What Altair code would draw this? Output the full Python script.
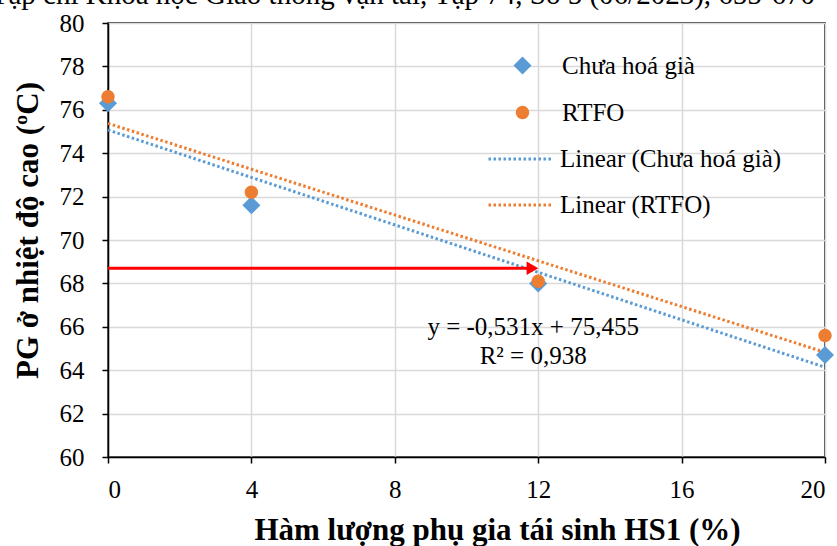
import altair as alt
import pandas as pd

# ---- data ----
x_vals = [0, 4, 12, 20]
chua_hoa_gia = [76.3, 71.6, 68.0, 64.7]
rtfo = [76.6, 72.2, 68.1, 65.6]
series_names = ["Chưa hoá già", "RTFO"]
series_colors = ["#5B9BD5", "#ED7D31"]
y_ticks = [60, 62, 64, 66, 68, 70, 72, 74, 76, 78, 80]
x_ticks = [0, 4, 8, 12, 16, 20]
arrow_start = 0
arrow_end = 11.84
arrow_level = 68.7
eq_lines = ["y = -0,531x + 75,455", "R² = 0,938"]
eq_levels = [66.0, 64.65]
eq_x = 11.86
header = "Tạp chí Khoa học Giao thông vận tải, Tập 74, Số 5 (06/2023), 655-670"
x_title = "Hàm lượng phụ gia tái sinh HS1 (%)"
y_title = "PG ở nhiệt độ cao (ºC)"

FONT = "Liberation Serif"
W, H = 717, 434

df = pd.DataFrame({
    "x": x_vals * 2,
    "y": chua_hoa_gia + rtfo,
    "series": [series_names[0]] * len(x_vals) + [series_names[1]] * len(x_vals),
})

xs = alt.Scale(domain=[0, 20], nice=False, zero=False)
ys = alt.Scale(domain=[60, 80], nice=False, zero=False)

x_axis = alt.Axis(values=x_ticks, title=x_title, grid=True, gridColor="#d9d9d9", gridWidth=1.5,
                  domainColor="black", domainWidth=1.5, tickColor="black", tickWidth=1.5, tickSize=6,
                  labelFont=FONT, labelFontSize=25, labelColor="black", labelPadding=14,
                  titleFont=FONT, titleFontSize=31, titleFontWeight="bold", titleColor="black",
                  titleX=389, titleY=82, titleBaseline="alphabetic", titleAnchor="middle")
y_axis = alt.Axis(values=y_ticks, title=y_title, grid=True, gridColor="#d9d9d9", gridWidth=1.5,
                  domainColor="black", domainWidth=1.5, tickColor="black", tickWidth=1.5, tickSize=6,
                  labelFont=FONT, labelFontSize=25, labelColor="black", labelPadding=18,
                  titleFont=FONT, titleFontSize=31, titleFontWeight="bold", titleColor="black",
                  titleX=-80, titleY=207, titleBaseline="middle", titleAngle=-90, titleAnchor="middle")


def X(field="x"):
    return alt.X(f"{field}:Q", scale=xs, axis=x_axis, title=x_title)


def Y(field="y"):
    return alt.Y(f"{field}:Q", scale=ys, axis=y_axis, title=y_title)


base = alt.Chart(df)

pt_legend = alt.Legend(orient="none", legendX=402, legendY=30, title=None, padding=0,
                       labelFont=FONT, labelFontSize=25, labelColor="black", labelOffset=27,
                       rowPadding=21, labelLimit=400)

points = base.mark_point(filled=True, opacity=1).encode(
    x=X(), y=Y(),
    color=alt.Color("series:N", scale=alt.Scale(domain=series_names, range=series_colors), legend=pt_legend),
    shape=alt.Shape("series:N", scale=alt.Scale(domain=series_names, range=["diamond", "circle"]), legend=pt_legend),
    size=alt.Size("series:N", scale=alt.Scale(domain=series_names, range=[324, 180]), legend=pt_legend),
)


def trend(i, legend_y):
    name = series_names[i]
    lab = f"Linear ({name})"
    return base.transform_filter(alt.datum.series == name).transform_regression(
        "x", "y"
    ).transform_calculate(label=f"'{lab}'").mark_line(
        strokeDash=[2.5, 2.5], strokeWidth=3
    ).encode(
        x=X(), y=Y(),
        color=alt.Color("label:N", scale=alt.Scale(domain=[lab], range=[series_colors[i]]),
                        legend=alt.Legend(orient="none", legendX=379, legendY=legend_y, title=None, padding=0,
                                          symbolType="stroke", symbolSize=4225, symbolDash=[2.5, 2.5],
                                          symbolStrokeWidth=3, labelFont=FONT, labelFontSize=25,
                                          labelColor="black", labelOffset=5, labelLimit=400)),
    )


arrow_df = pd.DataFrame({"x": [arrow_start], "x2": [arrow_end], "y": [arrow_level]})
arrow_line = alt.Chart(arrow_df).mark_rule(color="#FF0000", strokeWidth=3).encode(
    x=X(), x2="x2:Q", y=Y())
head_df = pd.DataFrame({"x": [arrow_end], "y": [arrow_level]})
arrow_head = alt.Chart(head_df).mark_point(shape="triangle-right", filled=True, opacity=1,
                                           color="#FF0000", size=180).encode(x=X(), y=Y())

eq_df = pd.DataFrame({"x": [eq_x] * len(eq_lines), "y": eq_levels, "t": eq_lines})
eq_text = alt.Chart(eq_df).mark_text(font=FONT, fontSize=25, color="black", align="center",
                                     baseline="middle").encode(x=X(), y=Y(), text="t:N")

head_text = alt.Chart(pd.DataFrame({"t": [header]})).mark_text(
    font=FONT, fontSize=29, color="black", align="right", baseline="alphabetic").encode(
    x=alt.value(707), y=alt.value(-19), text="t:N")

chart = alt.layer(
    trend(0, 102), trend(1, 148), arrow_line, arrow_head, points, eq_text, head_text
).resolve_scale(color="independent", shape="independent", size="independent").properties(
    width=W, height=H,
    background="white",
    autosize=alt.AutoSizeParams(type="none"),
    padding={"left": 108, "top": 23, "right": 12, "bottom": 89},
).configure_view(stroke="black", strokeWidth=1.5)

chart.save("out.html", embed_options={"renderer": "svg", "actions": False})
